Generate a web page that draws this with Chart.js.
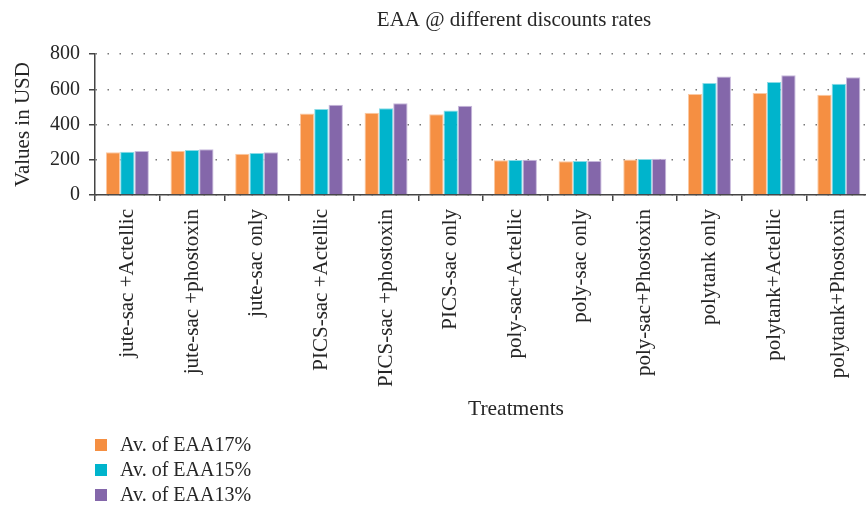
<!DOCTYPE html>
<html>
<head>
<meta charset="utf-8">
<script src="https://cdn.jsdelivr.net/npm/chart.js@4/dist/chart.umd.min.js"></script>
<style>
  html, body { margin: 0; padding: 0; background: #fff; overflow: hidden; }
  #wrap { width: 866px; height: 505px; overflow: hidden; }
</style>
</head>
<body>
<div id="wrap"><canvas id="eaaChart" width="872" height="505"></canvas></div>
<script>
// data
var treatments = ['jute-sac +Actellic', 'jute-sac +phostoxin', 'jute-sac only',
  'PICS-sac +Actellic', 'PICS-sac +phostoxin', 'PICS-sac only',
  'poly-sac+Actellic', 'poly-sac only', 'poly-sac+Phostoxin',
  'polytank only', 'polytank+Actellic', 'polytank+Phostoxin'];
var eaa17 = [242, 251, 234, 463, 467, 458, 197, 191, 202, 573, 579, 569];
var eaa15 = [246, 255, 238, 488, 492, 480, 199, 193, 204, 635, 641, 631];
var eaa13 = [250, 259, 242, 512, 520, 507, 200, 193, 206, 673, 679, 668];
var seriesNames = ['Av. of EAA17%', 'Av. of EAA15%', 'Av. of EAA13%'];
var yTicks = [0, 200, 400, 600, 800];

var colors = ['#f58f42', '#00b4cc', '#8467aa'];
var edges = ['#fbc9a3', '#8adbe6', '#c7b8dc'];
var serif = "'Liberation Serif', 'DejaVu Serif', serif";
var ink = '#262626';

// title, x title and the stacked legend
var extraText = {
  id: 'extraText',
  afterDraw: function (chart) {
    var ctx = chart.ctx;
    ctx.save();
    ctx.fillStyle = ink;
    ctx.textBaseline = 'middle';
    ctx.textAlign = 'center';
    ctx.font = '21px ' + serif;
    ctx.fillText('EAA @ different discounts rates', 514, 20);
    ctx.font = '21.5px ' + serif;
    ctx.fillText('Treatments', 516, 409);

    ctx.textAlign = 'left';
    ctx.font = '20px ' + serif;
    chart.data.datasets.forEach(function (ds, i) {
      var y = 445 + i * 25;
      ctx.fillStyle = ds.backgroundColor;
      ctx.fillRect(95, y - 6, 12, 12);
      ctx.fillStyle = ink;
      ctx.fillText(ds.label, 120, y + 1);
    });
    ctx.restore();
  }
};

new Chart(document.getElementById('eaaChart'), {
  type: 'bar',
  data: {
    labels: treatments,
    datasets: [
      { label: seriesNames[0], data: eaa17, backgroundColor: colors[0], borderColor: edges[0], borderWidth: 1 },
      { label: seriesNames[1], data: eaa15, backgroundColor: colors[1], borderColor: edges[1], borderWidth: 1 },
      { label: seriesNames[2], data: eaa13, backgroundColor: colors[2], borderColor: edges[2], borderWidth: 1 }
    ]
  },
  options: {
    responsive: false,
    animation: false,
    layout: { padding: { top: 54, right: 0, bottom: 0, left: 0 } },
    datasets: { bar: { categoryPercentage: 0.665, barPercentage: 1 } },
    plugins: {
      legend: { display: false },
      title: { display: false },
      tooltip: { enabled: false }
    },
    scales: {
      x: {
        grid: { offset: true, drawOnChartArea: false, drawTicks: true, tickLength: 6, color: '#444', lineWidth: 1.5 },
        border: { color: '#444', width: 1.5 },
        ticks: {
          autoSkip: false, minRotation: 90, maxRotation: 90, padding: 8,
          color: ink, font: { family: serif, size: 21 }
        },
        afterFit: function (scale) { scale.height = 310; }
      },
      y: {
        min: 0, max: 800,
        afterBuildTicks: function (scale) {
          scale.ticks = yTicks.map(function (v) { return { value: v }; });
        },
        grid: {
          drawTicks: true, tickLength: 6, color: '#777', lineWidth: 1.5,
          tickColor: '#444', tickWidth: 1.5, tickBorderDash: []
        },
        border: { display: true, color: '#444', width: 1.5, dash: [1.5, 10.5] },
        ticks: { padding: 9, color: ink, font: { family: serif, size: 20 } },
        title: {
          display: true, text: 'Values in USD', color: ink,
          font: { family: serif, size: 21 }, padding: { top: 11, bottom: 0 }
        },
        afterFit: function (scale) { scale.width = 95; }
      }
    }
  },
  plugins: [extraText]
});
</script>
</body>
</html>
